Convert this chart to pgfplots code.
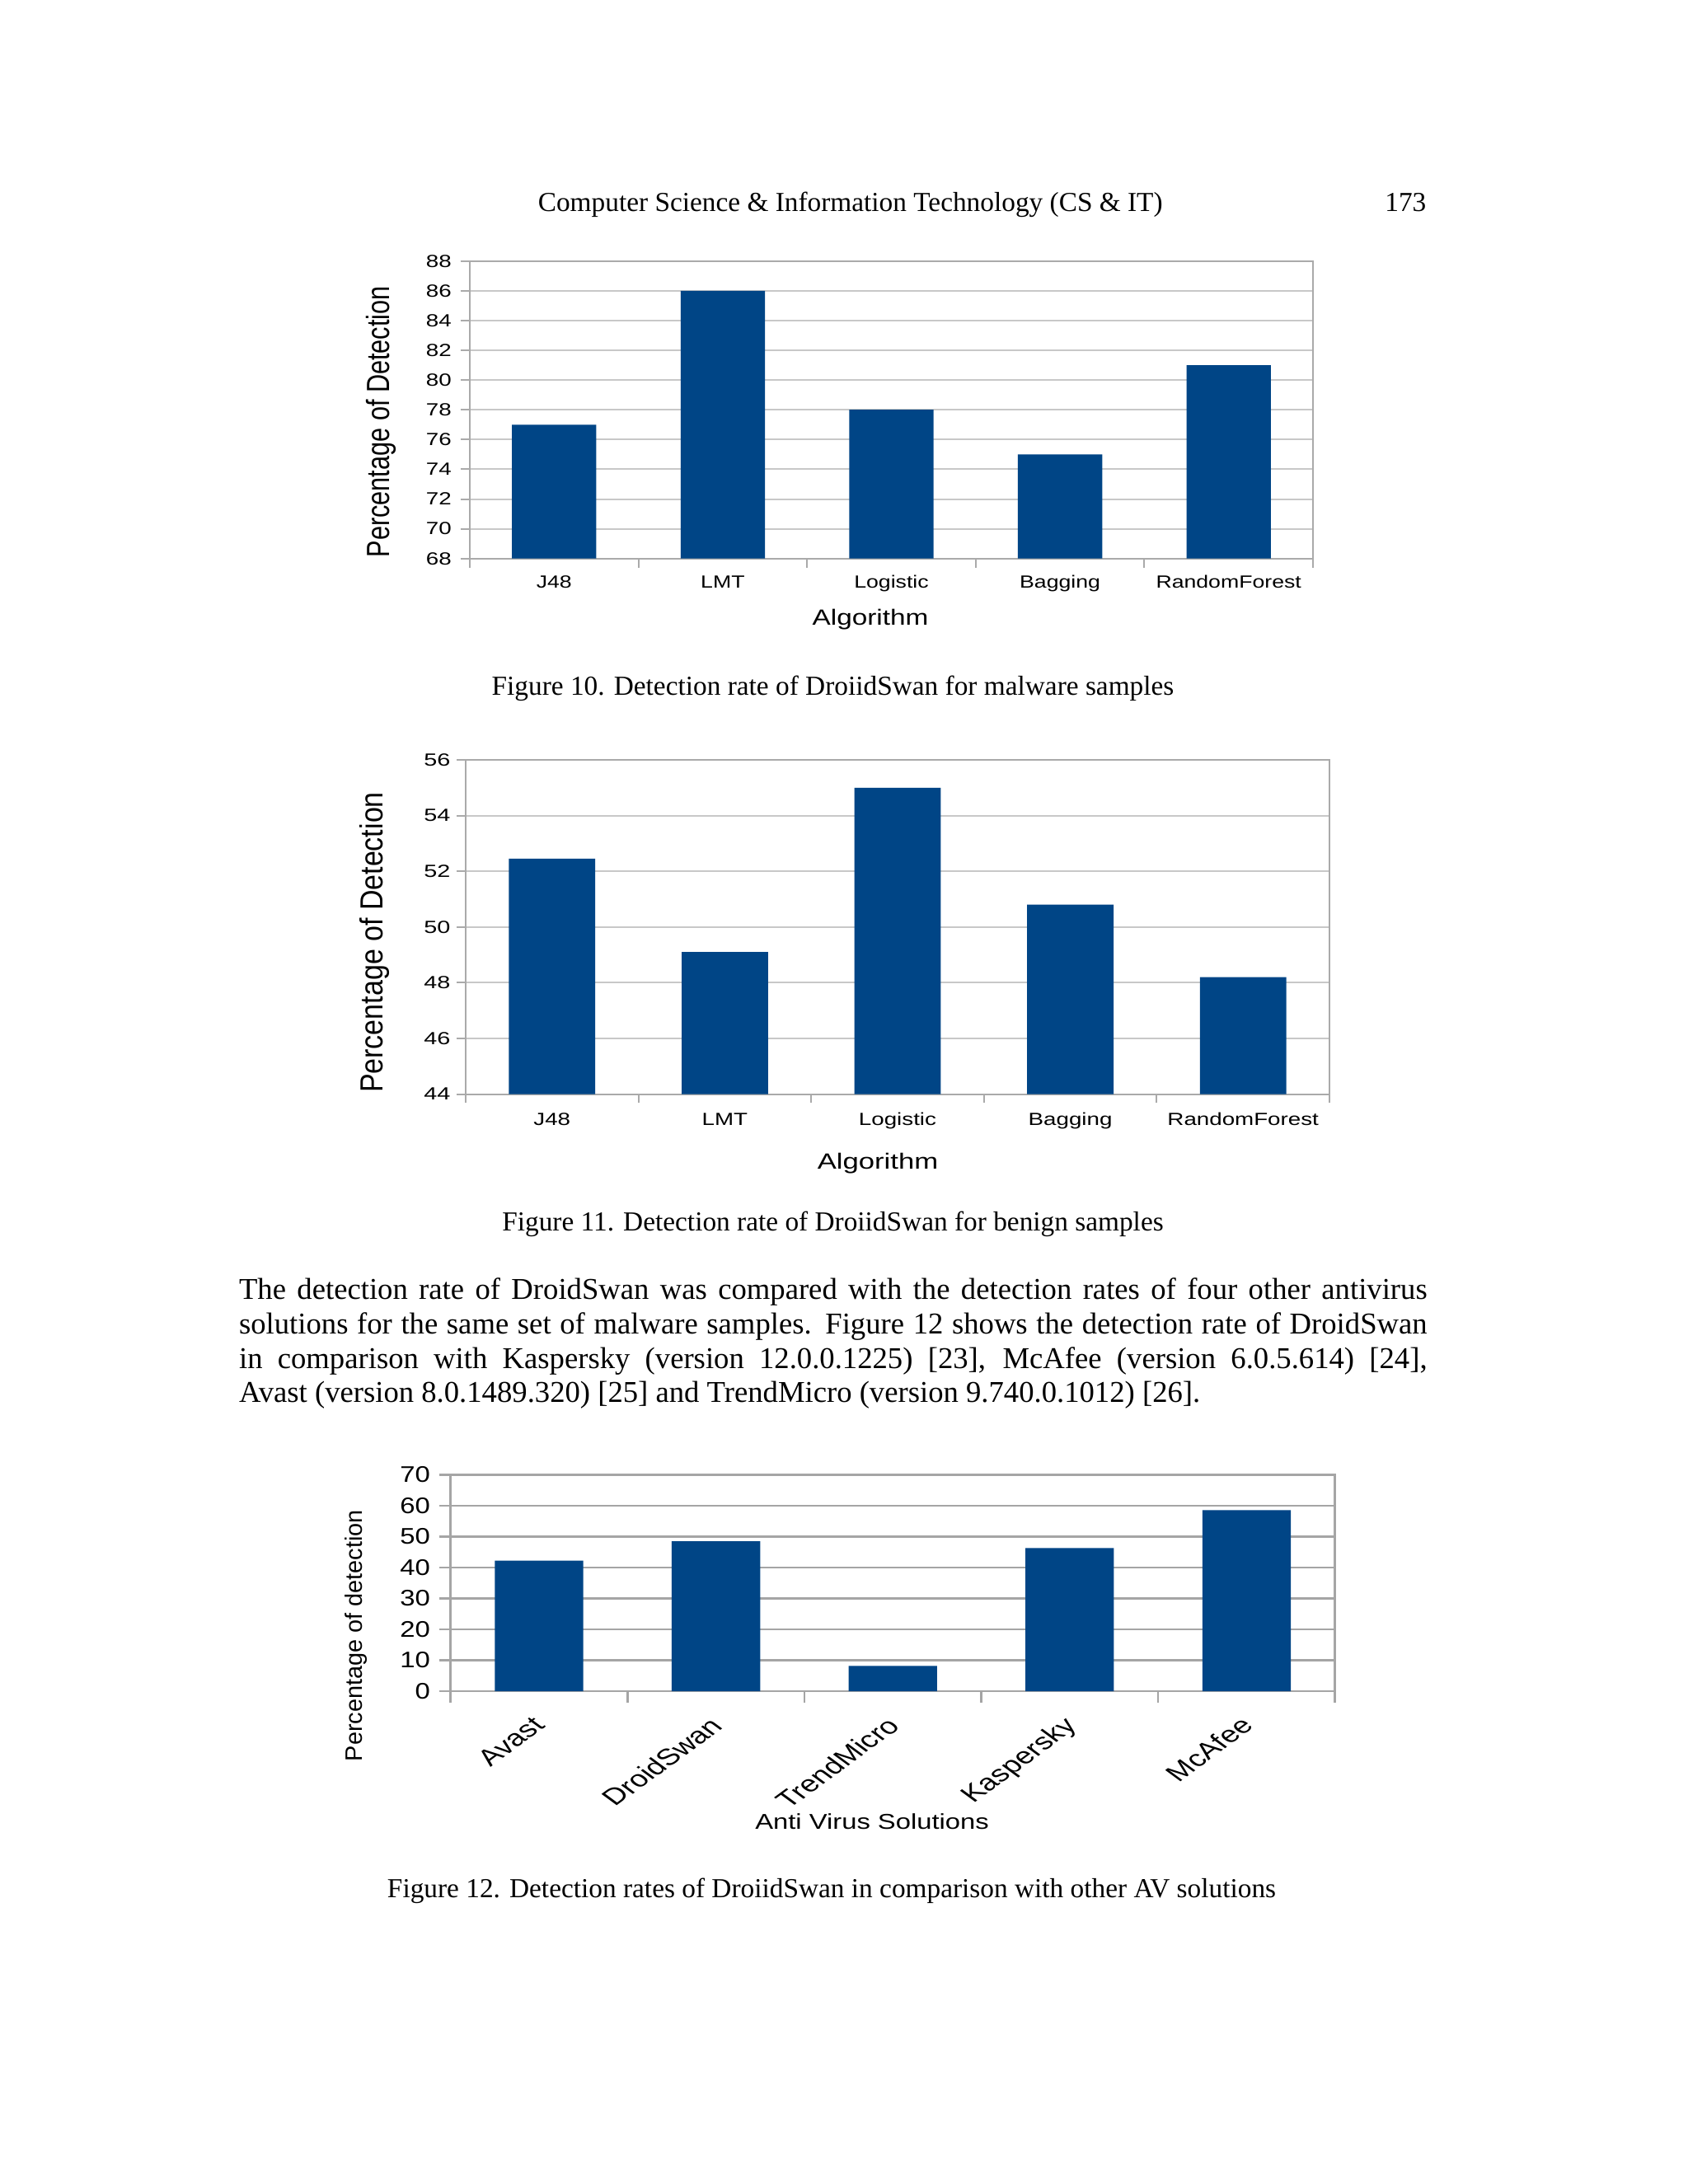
\documentclass[border=0pt]{standalone}
\usepackage{fontspec}
\setmainfont{Liberation Serif}
\newfontfamily\chartfont{Liberation Sans}
\usepackage{pgfplots}
\pgfplotsset{compat=1.18}

\definecolor{barblue}{RGB}{0,69,134}
\definecolor{gridlight}{RGB}{200,200,200}
\definecolor{griddark}{RGB}{165,165,165}
\definecolor{axisgray}{RGB}{170,170,170}

\newcommand\cf[1]{\chartfont\fontsize{#1}{#1}\selectfont}

\pgfplotsset{
  droid/.style={
    scale only axis,
    ybar, bar width=0.5,
    xmin=0.5, xmax=5.5,
    enlarge x limits=false,
    xtick={0.5,1.5,2.5,3.5,4.5,5.5},
    x tick label as interval,
    xtick pos=bottom, ytick pos=left,
    ymajorgrids,
    tick align=outside,
    axis line style={axisgray, line width=0.6pt},
    tick style={axisgray, line width=0.6pt},
    grid style={gridlight, line width=0.6pt},
    /pgf/number format/assume math mode=true,
  },
}

\begin{document}
\begin{tikzpicture}
\fill[white] (0pt,0pt) rectangle (614.295pt,-794.87pt);

% Figure 10: malware samples
\begin{axis}[droid,
    at={(170.97pt,-203.28pt)}, anchor=south west,
    width=306.85pt, height=108.28pt,
    ymin=68, ymax=88, ytick={68,70,...,88},
    major tick length=3.4pt,
    xticklabels={J48,LMT,Logistic,Bagging,RandomForest},
    xticklabel style={font=\cf{6.4}, anchor=base, yshift=-7.2pt, xscale=1.25},
    yticklabel style={font=\cf{6.4}, anchor=east, inner sep=0pt, xshift=-3pt, xscale=1.3},
  ]
  \addplot[fill=barblue, draw=none] coordinates {(1,77) (2,86) (3,78) (4,75) (5,81)};
\end{axis}

% Figure 11: benign samples
\begin{axis}[droid,
    at={(169.47pt,-398.18pt)}, anchor=south west,
    width=314.35pt, height=121.63pt,
    ymin=44, ymax=56, ytick={44,46,...,56},
    major tick length=3.2pt,
    xticklabels={J48,LMT,Logistic,Bagging,RandomForest},
    xticklabel style={font=\cf{6.4}, anchor=base, yshift=-8.1pt, xscale=1.3},
    yticklabel style={font=\cf{6.4}, anchor=east, inner sep=0pt, xshift=-2.1pt, xscale=1.35},
  ]
  \addplot[fill=barblue, draw=none] coordinates {(1,52.45) (2,49.1) (3,55.0) (4,50.8) (5,48.2)};
\end{axis}

% Figure 12: comparison with other AV solutions
\begin{axis}[droid,
    at={(163.98pt,-615.50pt)}, anchor=south west,
    width=321.85pt, height=78.74pt,
    ymin=0, ymax=70, ytick={0,10,...,70},
    major tick length=4.2pt,
    axis line style={griddark, line width=0.8pt},
    tick style={griddark, line width=0.8pt},
    grid style={griddark, line width=0.7pt},
    xticklabels={Avast,DroidSwan,TrendMicro,Kaspersky,McAfee},
    xticklabel style={font=\cf{8.4}, anchor=north east, inner sep=0pt,
      xshift=-2.9pt, yshift=-4.4pt, xscale=1.36, rotate=45},
    yticklabel style={font=\cf{8.2}, anchor=east, inner sep=0pt, xshift=-3pt, xscale=1.2},
  ]
  \addplot[fill=barblue, draw=none] coordinates {(1,42.25) (2,48.5) (3,8.2) (4,46.3) (5,58.6)};
\end{axis}

\begin{scope}[x=0.29995pt, y=-0.29995pt]
  % running head
  \node[anchor=base, inner sep=0pt, font=\fontsize{10}{12}\selectfont]
    at (1031.7,256.7) {Computer Science \& Information Technology (CS \& IT)};
  \node[anchor=base east, inner sep=0pt, font=\fontsize{10}{12}\selectfont]
    at (1731,256.7) {173};

  % chart axis titles
  \node[rotate=90, yscale=1.27, font=\cf{9.2}] at (462,511.7) {Percentage of Detection};
  \node[anchor=base, xscale=1.25, font=\cf{8}] at (1056,758) {Algorithm};
  \node[rotate=90, yscale=1.14, font=\cf{10.2}] at (454,1143.5) {Percentage of Detection};
  \node[anchor=base, xscale=1.3, font=\cf{8}] at (1065,1418.6) {Algorithm};
  \node[rotate=90, font=\cf{8.66}] at (432,1984.5) {Percentage of detection};
  \node[anchor=base, xscale=1.26, font=\cf{7.8}] at (1058,2219) {Anti Virus Solutions};

  % captions
  \node[anchor=base, inner sep=0pt, font=\fontsize{10}{12}\selectfont]
    at (1010.5,843.3) {Figure 10. Detection rate of DroiidSwan for malware samples};
  \node[anchor=base, inner sep=0pt, font=\fontsize{10}{12}\selectfont]
    at (1010.5,1493.3) {Figure 11. Detection rate of DroiidSwan for benign samples};
  \node[anchor=base, inner sep=0pt, font=\fontsize{10}{12}\selectfont]
    at (1009,2302) {Figure 12. Detection rates of DroiidSwan in comparison with other AV solutions};

  % body paragraph
  \begin{scope}[every node/.style={anchor=base west, inner sep=0pt, font=\fontsize{11}{13}\selectfont}]
    \node at (289.4,1576) {\makebox[432.4pt][s]{The detection rate of DroidSwan was compared with the detection rates of four other antivirus}};
    \node at (289.4,1618.3) {\makebox[432.4pt][s]{solutions for the same set of malware samples. Figure 12 shows the detection rate of DroidSwan}};
    \node at (289.4,1660) {\makebox[432.4pt][s]{in comparison with Kaspersky (version 12.0.0.1225) [23], McAfee (version 6.0.5.614) [24],}};
    \node at (289.4,1701.7) {Avast (version 8.0.1489.320) [25] and TrendMicro (version 9.740.0.1012) [26].};
  \end{scope}
\end{scope}
\end{tikzpicture}
\end{document}
